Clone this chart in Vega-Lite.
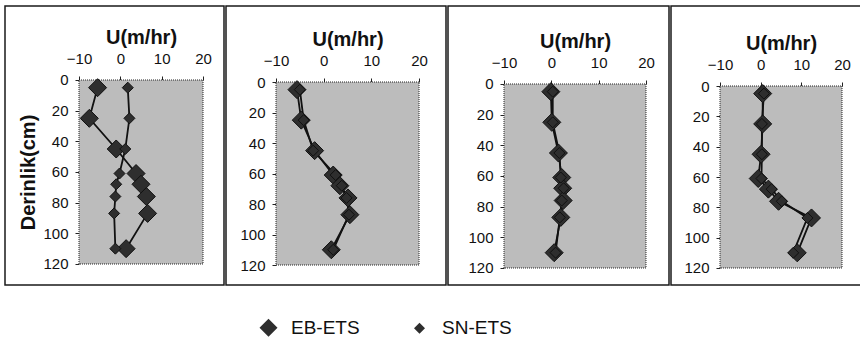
{
  "$schema": "https://vega.github.io/schema/vega-lite/v6.json",
  "padding": {"left": 4, "top": 5, "right": 0, "bottom": 0},
  "background": "white",
  "config": {
    "view": {"stroke": "#1a1a1a", "strokeWidth": 1.5},
    "font": "Liberation Sans",
    "axis": {"grid": false, "domain": false, "tickSize": 4, "tickColor": "#222", "labelFontSize": 15, "labelColor": "#111", "titleColor": "#111", "titleFontSize": 20, "titleFontWeight": "bold", "labelFlush": false, "labelOverlap": false, "labelBound": false}
  },
  "resolve": {"scale": {"size": "shared", "shape": "shared", "color": "shared"}, "legend": {"size": "shared", "shape": "shared", "color": "shared"}},
  "hconcat": [
    {
      "width": 219, "height": 279,
      "transform": [{"filter": "datum.panel == 1"}],
      "layer": [
        {"data": {"values": [{}]}, "mark": {"type": "rect", "fill": "#bcbcbc", "stroke": "#222", "strokeDash": [1, 1], "strokeWidth": 1},
         "encoding": {
           "x": {"datum": -10, "type": "quantitative", "scale": {"domain": [-27.9, 25.08], "nice": false, "zero": false},
                 "axis": {"orient": "top", "offset": -74, "values": [-10, 0, 10, 20], "labelPadding": 10, "title": "U(m/hr)", "titlePadding": 4, "titleX": 136}},
           "x2": {"datum": 20},
           "y": {"datum": 0, "type": "quantitative", "scale": {"domain": [-48.26, 133.7], "reverse": true, "nice": false, "zero": false},
                 "axis": {"orient": "left", "offset": -74, "values": [0, 20, 40, 60, 80, 100, 120], "labelPadding": 7, "title": "Derinlik(cm)", "titlePadding": 4, "titleY": 166}},
           "y2": {"datum": 120}
         }},
        {"mark": {"type": "line", "color": "#111", "strokeWidth": 1.8},
         "encoding": {
           "x": {"field": "u", "type": "quantitative", "scale": {"domain": [-27.9, 25.08], "nice": false, "zero": false}},
           "y": {"field": "depth", "type": "quantitative", "scale": {"domain": [-48.26, 133.7], "reverse": true, "nice": false, "zero": false}},
           "detail": {"field": "series"},
           "order": {"field": "depth"}
         }},
        {"mark": {"type": "point", "filled": true, "opacity": 1, "shape": "diamond", "color": "#2e2e2e", "stroke": "#111", "strokeWidth": 1},
         "encoding": {
           "x": {"field": "u", "type": "quantitative"},
           "y": {"field": "depth", "type": "quantitative"},
           "size": {"field": "series", "type": "nominal", "scale": {"type": "ordinal", "domain": ["EB-ETS", "SN-ETS"], "range": [324, 121]},
                    "legend": {"orient": "none", "direction": "horizontal", "legendX": 254, "legendY": 312, "title": null, "labelFontSize": 19, "labelOffset": 13, "columnPadding": 50, "padding": 0, "symbolType": "diamond", "symbolFillColor": "#2e2e2e", "symbolStrokeColor": "#111", "symbolStrokeWidth": 1, "labelColor": "#111"}}
         }}
      ]
    },
    {
      "width": 220, "height": 279,
      "transform": [{"filter": "datum.panel == 2"}],
      "layer": [
        {"data": {"values": [{}]}, "mark": {"type": "rect", "fill": "#bcbcbc", "stroke": "#222", "strokeDash": [1, 1], "strokeWidth": 1},
         "encoding": {
           "x": {"datum": -10, "type": "quantitative", "scale": {"domain": [-20.49, 25.66], "nice": false, "zero": false},
                 "axis": {"orient": "top", "offset": -76, "values": [-10, 0, 10, 20], "labelPadding": 10, "title": "U(m/hr)", "titlePadding": 4, "titleX": 121.5}},
           "x2": {"datum": 20},
           "y": {"datum": 0, "type": "quantitative", "scale": {"domain": [-49.84, 133.11], "reverse": true, "nice": false, "zero": false},
                 "axis": {"orient": "left", "offset": -50, "values": [0, 20, 40, 60, 80, 100, 120], "labelPadding": 7, "title": null}},
           "y2": {"datum": 120}
         }},
        {"mark": {"type": "line", "color": "#111", "strokeWidth": 1.8},
         "encoding": {
           "x": {"field": "u", "type": "quantitative", "scale": {"domain": [-20.49, 25.66], "nice": false, "zero": false}},
           "y": {"field": "depth", "type": "quantitative", "scale": {"domain": [-49.84, 133.11], "reverse": true, "nice": false, "zero": false}},
           "detail": {"field": "series"},
           "order": {"field": "depth"}
         }},
        {"mark": {"type": "point", "filled": true, "opacity": 1, "shape": "diamond", "color": "#2e2e2e", "stroke": "#111", "strokeWidth": 1},
         "encoding": {
           "x": {"field": "u", "type": "quantitative"},
           "y": {"field": "depth", "type": "quantitative"},
           "size": {"field": "series", "type": "nominal", "scale": {"type": "ordinal", "domain": ["EB-ETS", "SN-ETS"], "range": [324, 121]}}
         }}
      ]
    },
    {
      "width": 221, "height": 279,
      "transform": [{"filter": "datum.panel == 3"}],
      "layer": [
        {"data": {"values": [{}]}, "mark": {"type": "rect", "fill": "#bcbcbc", "stroke": "#222", "strokeDash": [1, 1], "strokeWidth": 1},
         "encoding": {
           "x": {"datum": -10, "type": "quantitative", "scale": {"domain": [-21.83, 24.86], "nice": false, "zero": false},
                 "axis": {"orient": "top", "offset": -78, "values": [-10, 0, 10, 20], "labelPadding": 10, "title": "U(m/hr)", "titlePadding": 4, "titleX": 127}},
           "x2": {"datum": 20},
           "y": {"datum": 0, "type": "quantitative", "scale": {"domain": [-50.87, 131.09], "reverse": true, "nice": false, "zero": false},
                 "axis": {"orient": "left", "offset": -56, "values": [0, 20, 40, 60, 80, 100, 120], "labelPadding": 7, "title": null}},
           "y2": {"datum": 120}
         }},
        {"mark": {"type": "line", "color": "#111", "strokeWidth": 1.8},
         "encoding": {
           "x": {"field": "u", "type": "quantitative", "scale": {"domain": [-21.83, 24.86], "nice": false, "zero": false}},
           "y": {"field": "depth", "type": "quantitative", "scale": {"domain": [-50.87, 131.09], "reverse": true, "nice": false, "zero": false}},
           "detail": {"field": "series"},
           "order": {"field": "depth"}
         }},
        {"mark": {"type": "point", "filled": true, "opacity": 1, "shape": "diamond", "color": "#2e2e2e", "stroke": "#111", "strokeWidth": 1},
         "encoding": {
           "x": {"field": "u", "type": "quantitative"},
           "y": {"field": "depth", "type": "quantitative"},
           "size": {"field": "series", "type": "nominal", "scale": {"type": "ordinal", "domain": ["EB-ETS", "SN-ETS"], "range": [324, 121]}}
         }}
      ]
    },
    {
      "width": 194, "height": 279,
      "transform": [{"filter": "datum.panel == 4"}],
      "layer": [
        {"data": {"values": [{}]}, "mark": {"type": "rect", "fill": "#bcbcbc", "stroke": "#222", "strokeDash": [1, 1], "strokeWidth": 1},
         "encoding": {
           "x": {"datum": -10, "type": "quantitative", "scale": {"domain": [-22.05, 25.66], "nice": false, "zero": false},
                 "axis": {"orient": "top", "offset": -80, "values": [-10, 0, 10, 20], "labelPadding": 10, "title": "U(m/hr)", "titlePadding": 4, "titleX": 110}},
           "x2": {"datum": 20},
           "y": {"datum": 0, "type": "quantitative", "scale": {"domain": [-52.75, 131.21], "reverse": true, "nice": false, "zero": false},
                 "axis": {"orient": "left", "offset": -49, "values": [0, 20, 40, 60, 80, 100, 120], "labelPadding": 7, "title": null}},
           "y2": {"datum": 120}
         }},
        {"mark": {"type": "line", "color": "#111", "strokeWidth": 1.8},
         "encoding": {
           "x": {"field": "u", "type": "quantitative", "scale": {"domain": [-22.05, 25.66], "nice": false, "zero": false}},
           "y": {"field": "depth", "type": "quantitative", "scale": {"domain": [-52.75, 131.21], "reverse": true, "nice": false, "zero": false}},
           "detail": {"field": "series"},
           "order": {"field": "depth"}
         }},
        {"mark": {"type": "point", "filled": true, "opacity": 1, "shape": "diamond", "color": "#2e2e2e", "stroke": "#111", "strokeWidth": 1},
         "encoding": {
           "x": {"field": "u", "type": "quantitative"},
           "y": {"field": "depth", "type": "quantitative"},
           "size": {"field": "series", "type": "nominal", "scale": {"type": "ordinal", "domain": ["EB-ETS", "SN-ETS"], "range": [324, 121]}}
         }}
      ]
    }
  ],
  "spacing": 0,
  "data": {"values": [
    {"panel": 1, "series": "EB-ETS", "depth": 5, "u": -5.5},
    {"panel": 1, "series": "EB-ETS", "depth": 25, "u": -7.5},
    {"panel": 1, "series": "EB-ETS", "depth": 45, "u": -1.0},
    {"panel": 1, "series": "EB-ETS", "depth": 61, "u": 3.8},
    {"panel": 1, "series": "EB-ETS", "depth": 68, "u": 5.0},
    {"panel": 1, "series": "EB-ETS", "depth": 76, "u": 6.3},
    {"panel": 1, "series": "EB-ETS", "depth": 87, "u": 6.6},
    {"panel": 1, "series": "EB-ETS", "depth": 110, "u": 1.4},
    {"panel": 1, "series": "SN-ETS", "depth": 5, "u": 1.8},
    {"panel": 1, "series": "SN-ETS", "depth": 25, "u": 2.2},
    {"panel": 1, "series": "SN-ETS", "depth": 45, "u": 1.2},
    {"panel": 1, "series": "SN-ETS", "depth": 61, "u": -0.2},
    {"panel": 1, "series": "SN-ETS", "depth": 68, "u": -1.0},
    {"panel": 1, "series": "SN-ETS", "depth": 76, "u": -1.2},
    {"panel": 1, "series": "SN-ETS", "depth": 87, "u": -1.5},
    {"panel": 1, "series": "SN-ETS", "depth": 110, "u": -1.2},
    {"panel": 2, "series": "EB-ETS", "depth": 5, "u": -5.6},
    {"panel": 2, "series": "EB-ETS", "depth": 25, "u": -4.7},
    {"panel": 2, "series": "EB-ETS", "depth": 45, "u": -1.9},
    {"panel": 2, "series": "EB-ETS", "depth": 61, "u": 2.0},
    {"panel": 2, "series": "EB-ETS", "depth": 68, "u": 3.4},
    {"panel": 2, "series": "EB-ETS", "depth": 76, "u": 5.1},
    {"panel": 2, "series": "EB-ETS", "depth": 87, "u": 5.5},
    {"panel": 2, "series": "EB-ETS", "depth": 110, "u": 1.6},
    {"panel": 2, "series": "SN-ETS", "depth": 5, "u": -5.0},
    {"panel": 2, "series": "SN-ETS", "depth": 25, "u": -4.2},
    {"panel": 2, "series": "SN-ETS", "depth": 45, "u": -2.2},
    {"panel": 2, "series": "SN-ETS", "depth": 61, "u": 2.5},
    {"panel": 2, "series": "SN-ETS", "depth": 68, "u": 3.8},
    {"panel": 2, "series": "SN-ETS", "depth": 76, "u": 4.8},
    {"panel": 2, "series": "SN-ETS", "depth": 87, "u": 5.3},
    {"panel": 2, "series": "SN-ETS", "depth": 110, "u": 2.0},
    {"panel": 3, "series": "EB-ETS", "depth": 5, "u": -0.1},
    {"panel": 3, "series": "EB-ETS", "depth": 25, "u": 0.1},
    {"panel": 3, "series": "EB-ETS", "depth": 45, "u": 1.5},
    {"panel": 3, "series": "EB-ETS", "depth": 61, "u": 2.2},
    {"panel": 3, "series": "EB-ETS", "depth": 68, "u": 2.4},
    {"panel": 3, "series": "EB-ETS", "depth": 76, "u": 2.5},
    {"panel": 3, "series": "EB-ETS", "depth": 87, "u": 2.0},
    {"panel": 3, "series": "EB-ETS", "depth": 110, "u": 0.6},
    {"panel": 3, "series": "SN-ETS", "depth": 5, "u": 0.3},
    {"panel": 3, "series": "SN-ETS", "depth": 25, "u": 0.3},
    {"panel": 3, "series": "SN-ETS", "depth": 45, "u": 1.7},
    {"panel": 3, "series": "SN-ETS", "depth": 61, "u": 2.0},
    {"panel": 3, "series": "SN-ETS", "depth": 68, "u": 2.6},
    {"panel": 3, "series": "SN-ETS", "depth": 76, "u": 2.2},
    {"panel": 3, "series": "SN-ETS", "depth": 87, "u": 1.8},
    {"panel": 3, "series": "SN-ETS", "depth": 110, "u": 0.9},
    {"panel": 4, "series": "EB-ETS", "depth": 5, "u": 0.5},
    {"panel": 4, "series": "EB-ETS", "depth": 25, "u": 0.5},
    {"panel": 4, "series": "EB-ETS", "depth": 45, "u": 0.1},
    {"panel": 4, "series": "EB-ETS", "depth": 61, "u": -0.6},
    {"panel": 4, "series": "EB-ETS", "depth": 68, "u": 1.9},
    {"panel": 4, "series": "EB-ETS", "depth": 76, "u": 4.4},
    {"panel": 4, "series": "EB-ETS", "depth": 87, "u": 12.5},
    {"panel": 4, "series": "EB-ETS", "depth": 110, "u": 9.0},
    {"panel": 4, "series": "SN-ETS", "depth": 5, "u": 0.8},
    {"panel": 4, "series": "SN-ETS", "depth": 25, "u": 0.3},
    {"panel": 4, "series": "SN-ETS", "depth": 45, "u": 0.3},
    {"panel": 4, "series": "SN-ETS", "depth": 61, "u": 0.2},
    {"panel": 4, "series": "SN-ETS", "depth": 68, "u": 2.7},
    {"panel": 4, "series": "SN-ETS", "depth": 76, "u": 5.2},
    {"panel": 4, "series": "SN-ETS", "depth": 87, "u": 11.5},
    {"panel": 4, "series": "SN-ETS", "depth": 110, "u": 8.0}
  ]}
}
